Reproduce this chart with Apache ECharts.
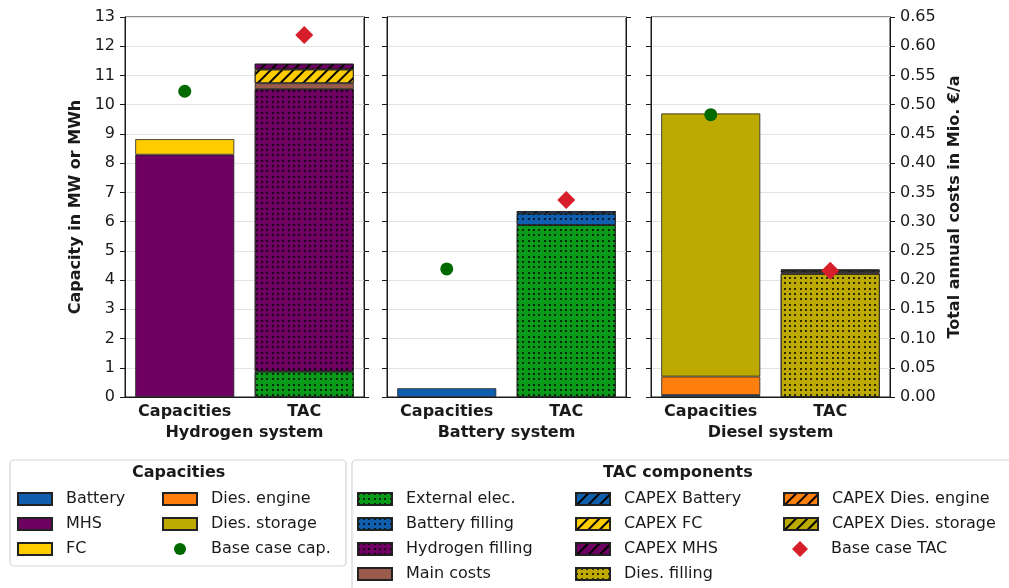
<!DOCTYPE html>
<html>
<head>
<meta charset="utf-8">
<script src="https://cdn.jsdelivr.net/npm/echarts@6/dist/echarts.min.js"></script>
<style>
  html, body { margin: 0; padding: 0; background: #fff; }
  #chart { width: 1009px; height: 588px; }
</style>
</head>
<body>
<div id="chart"></div>
<script>
// Systems (one panel each) and the two bars per panel
const systems = ['Hydrogen system', 'Battery system', 'Diesel system'];
const barCategories = ['Capacities', 'TAC'];

// Capacities in MW or MWh, one value per system (null = not installed)
const capBattery     = [null, 0.30, 0.07];
const capMHS         = [8.29, null, null];
const capFC          = [0.53, null, null];
const capDiesEngine  = [null, null, 0.63];
const capDiesStorage = [null, null, 9.00];
const baseCaseCap    = [10.46, 4.38, 9.66];

// Total annual cost components in Mio. €/a
const tacExternalElec     = [0.0437, 0.294, null];
const tacBatteryFilling   = [null, 0.020, null];
const tacHydrogenFilling  = [0.483, null, null];
const tacDiesFilling      = [null, null, 0.2106];
const tacMainCosts        = [0.010, null, 0.003];
const tacCapexBattery     = [null, 0.004, null];
const tacCapexFC          = [0.0236, null, null];
const tacCapexMHS         = [0.0098, null, null];
const tacCapexDiesEngine  = [null, null, 0.003];
const tacCapexDiesStorage = [null, null, 0.001];
const baseCaseTAC         = [0.619, 0.337, 0.216];

// Axis ticks
const capTicks = { min: 0, max: 13, interval: 1 };
const tacTicks = { min: 0, max: 0.65, interval: 0.05 };

const FONT = 'DejaVu Sans';
const INK = '#1a1a1a';
const DIAMOND = 'path://M0,-1L1,0L0,1L-1,0Z';

const dots = {
  symbol: 'circle', symbolSize: 1, color: '#000',
  dashArrayX: [2, 3, 2, 3, 2, 4], dashArrayY: [2, 3, 2, 3, 2, 4]
};
const hatch = {
  symbol: 'rect', symbolSize: 1, color: '#000',
  dashArrayX: [1, 0], dashArrayY: [1.5, 5.5], rotation: -Math.PI / 4
};

const colors = {
  battery: '#0f5fae', mhs: '#6e0062', fc: '#ffcc00',
  engine: '#ff7f0e', storage: '#bcaa00',
  ext: '#0a9a1a', main: '#9a5b4c'
};

const capComponents = [
  { name: 'Battery', values: capBattery, color: colors.battery },
  { name: 'MHS', values: capMHS, color: colors.mhs },
  { name: 'FC', values: capFC, color: colors.fc },
  { name: 'Dies. engine', values: capDiesEngine, color: colors.engine },
  { name: 'Dies. storage', values: capDiesStorage, color: colors.storage }
];
const tacComponents = [
  { name: 'External elec.', values: tacExternalElec, color: colors.ext, decal: dots },
  { name: 'Battery filling', values: tacBatteryFilling, color: colors.battery, decal: dots },
  { name: 'Hydrogen filling', values: tacHydrogenFilling, color: colors.mhs, decal: dots },
  { name: 'Dies. filling', values: tacDiesFilling, color: colors.storage, decal: dots },
  { name: 'Main costs', values: tacMainCosts, color: colors.main },
  { name: 'CAPEX Battery', values: tacCapexBattery, color: colors.battery, decal: hatch },
  { name: 'CAPEX FC', values: tacCapexFC, color: colors.fc, decal: hatch },
  { name: 'CAPEX MHS', values: tacCapexMHS, color: colors.mhs, decal: hatch },
  { name: 'CAPEX Dies. engine', values: tacCapexDiesEngine, color: colors.engine, decal: hatch },
  { name: 'CAPEX Dies. storage', values: tacCapexDiesStorage, color: colors.storage, decal: hatch }
];

const gridLefts = [125, 387, 651];
const gridWidth = 239;

const grids = [], xAxes = [], yAxes = [], series = [];

systems.forEach(function (sys, g) {
  grids.push({
    left: gridLefts[g], width: gridWidth, top: 17, bottom: 191,
    show: true, borderColor: INK, borderWidth: 1, backgroundColor: 'transparent'
  });
  xAxes.push({
    gridIndex: g, type: 'category', data: barCategories,
    axisLine: { show: true, lineStyle: { color: INK, width: 1 } },
    axisTick: { show: false },
    axisLabel: { interval: 0, color: INK, fontFamily: FONT, fontSize: 16, fontWeight: 'bold', margin: 7 },
    name: sys, nameLocation: 'middle', nameGap: 27,
    nameTextStyle: { color: INK, fontFamily: FONT, fontSize: 16, fontWeight: 'bold' }
  });
  yAxes.push({
    gridIndex: g, type: 'value', position: 'left',
    min: capTicks.min, max: capTicks.max, interval: capTicks.interval,
    axisLine: { show: true, lineStyle: { color: INK, width: 1 } },
    axisTick: { show: true, length: 5, lineStyle: { color: INK } },
    axisLabel: { show: g === 0, color: INK, fontFamily: FONT, fontSize: 16, margin: 10 },
    splitLine: { show: true, lineStyle: { color: '#e3e3e3', width: 1.2 } },
    name: g === 0 ? 'Capacity in MW or MWh' : '',
    nameLocation: 'middle', nameRotate: 90, nameGap: 41,
    nameTextStyle: { color: INK, fontFamily: FONT, fontSize: 16, fontWeight: 'bold' }
  });
  yAxes.push({
    gridIndex: g, type: 'value', position: 'right',
    min: tacTicks.min, max: tacTicks.max, interval: tacTicks.interval,
    axisLine: { show: true, lineStyle: { color: INK, width: 1 } },
    axisTick: { show: true, length: 5, lineStyle: { color: INK } },
    axisLabel: {
      show: g === 2, color: INK, fontFamily: FONT, fontSize: 16, margin: 10,
      formatter: function (v) { return v.toFixed(2); }
    },
    splitLine: { show: false },
    name: g === 2 ? 'Total annual costs in Mio. €/a' : '',
    nameLocation: 'middle', nameRotate: 90, nameGap: 57,
    nameTextStyle: { color: INK, fontFamily: FONT, fontSize: 16, fontWeight: 'bold', verticalAlign: 'top' }
  });

  const stack = 'stack' + g;
  capComponents.forEach(function (c) {
    const v = c.values[g];
    if (v == null) return;
    series.push({
      type: 'bar', name: c.name, xAxisIndex: g, yAxisIndex: 2 * g, stack: stack,
      barWidth: 99, data: [v, '-'],
      itemStyle: { color: c.color, borderColor: '#222', borderWidth: 0.8 }
    });
  });
  tacComponents.forEach(function (c) {
    const v = c.values[g];
    if (v == null) return;
    const style = { color: c.color, borderColor: '#222', borderWidth: 0.8 };
    if (c.decal) style.decal = c.decal;
    series.push({
      type: 'bar', name: c.name, xAxisIndex: g, yAxisIndex: 2 * g + 1, stack: stack,
      barWidth: 99, data: ['-', v], itemStyle: style
    });
  });
  series.push({
    type: 'scatter', name: 'Base case cap.', xAxisIndex: g, yAxisIndex: 2 * g,
    symbol: 'circle', symbolSize: 13, z: 5, data: [baseCaseCap[g], '-'],
    itemStyle: { color: '#006a00', opacity: 1 }
  });
  series.push({
    type: 'scatter', name: 'Base case TAC', xAxisIndex: g, yAxisIndex: 2 * g + 1,
    symbol: DIAMOND, symbolSize: 18, z: 5, data: ['-', baseCaseTAC[g]],
    itemStyle: { color: '#d61f2a', opacity: 1 }
  });
});

function legendCol(left, top, names, iconHeight) {
  return {
    orient: 'vertical', left: left, top: top, padding: 0,
    itemWidth: 34, itemHeight: iconHeight || 12, itemGap: 7, selectedMode: false,
    textStyle: { color: INK, fontFamily: FONT, fontSize: 16, lineHeight: 18, padding: [0, 0, 0, 9] },
    data: names.map(function (n) {
      return n.indexOf('Base case') === 0 ? { name: n } : { name: n, icon: 'rect' };
    })
  };
}

const legends = [
  legendCol(17, 490, ['Battery', 'MHS', 'FC']),
  legendCol(162, 490, ['Dies. engine', 'Dies. storage', 'Base case cap.']),
  legendCol(357, 490, ['External elec.', 'Battery filling', 'Hydrogen filling', 'Main costs']),
  legendCol(575, 490, ['CAPEX Battery', 'CAPEX FC', 'CAPEX MHS', 'Dies. filling']),
  legendCol(783, 490, ['CAPEX Dies. engine', 'CAPEX Dies. storage']),
  legendCol(792, 540, ['Base case TAC'], 16)
];

const chart = echarts.init(document.getElementById('chart'), null, { renderer: 'canvas' });
chart.setOption({
  animation: false,
  backgroundColor: '#fff',
  grid: grids, xAxis: xAxes, yAxis: yAxes, series: series,
  legend: legends,
  graphic: [
    { type: 'rect', z: -1, shape: { x: 10, y: 460, width: 336, height: 106, r: 4 },
      style: { fill: '#fff', stroke: '#d4d4d4', lineWidth: 1.2 } },
    { type: 'rect', z: -1, shape: { x: 352, y: 460, width: 680, height: 140, r: 4 },
      style: { fill: '#fff', stroke: '#d4d4d4', lineWidth: 1.2 } },
    { type: 'text', z: 1, left: 178 - 46, top: 465,
      style: { text: 'Capacities', fill: INK, font: 'bold 16px "DejaVu Sans"' } },
    { type: 'text', z: 1, left: 603, top: 465,
      style: { text: 'TAC components', fill: INK, font: 'bold 16px "DejaVu Sans"' } }
  ]
});
</script>
</body>
</html>
